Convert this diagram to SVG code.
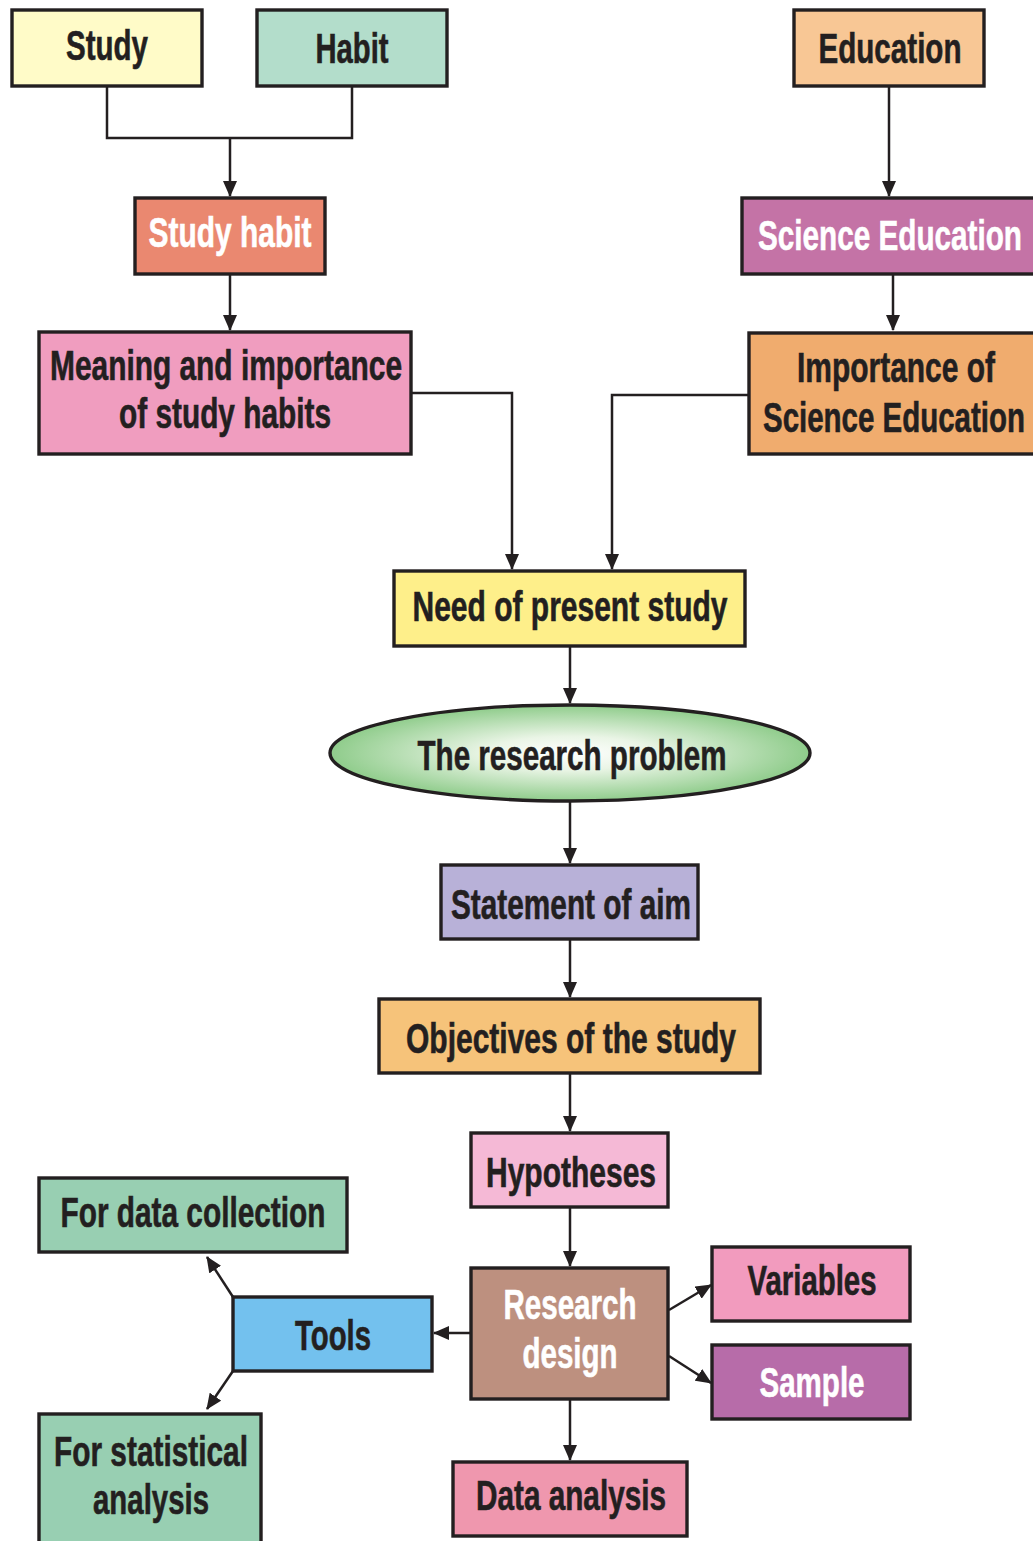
<svg xmlns="http://www.w3.org/2000/svg" width="1033" height="1541" viewBox="0 0 1033 1541">
  <defs>
    <marker id="arrow" markerUnits="userSpaceOnUse" markerWidth="16" markerHeight="14" viewBox="0 0 16 14" refX="15" refY="7" orient="auto">
      <path d="M0,0 L16,7 L0,14 Z" fill="#231f20"/>
    </marker>
    <radialGradient id="ovalFill" cx="50%" cy="50%" r="50%">
      <stop offset="0" stop-color="#ffffff"/>
      <stop offset="0.35" stop-color="#eaf5e6"/>
      <stop offset="1" stop-color="#8fcc8b"/>
    </radialGradient>
    <style>
      .box { stroke: #231f20; stroke-width: 3.4; }
      .lbl { font-family: "Liberation Sans", Arial, sans-serif; font-weight: bold; font-size: 42px; text-anchor: middle; fill: #231f20; stroke: #231f20; stroke-width: 0.6px; }
      .light { fill: #ffffff; stroke: #ffffff; }
      .wire { fill: none; stroke: #231f20; stroke-width: 2.5; }
      .arr { marker-end: url(#arrow); }
    </style>
  </defs>

  <rect width="1033" height="1541" fill="#ffffff"/>

  <!-- connectors -->
  <g id="connectors">
    <path class="wire" d="M107,86 V138 H352 V86"/>
    <path class="wire arr" d="M230,138 V196"/>
    <path class="wire arr" d="M230,274 V330"/>
    <path class="wire arr" d="M411,393 H512 V569"/>
    <path class="wire arr" d="M889,86 V196"/>
    <path class="wire arr" d="M893,274 V330"/>
    <path class="wire arr" d="M749,395 H612 V569"/>
    <path class="wire arr" d="M570,646 V703"/>
    <path class="wire arr" d="M570,801 V863"/>
    <path class="wire arr" d="M570,939 V997"/>
    <path class="wire arr" d="M570,1073 V1131"/>
    <path class="wire arr" d="M570,1207 V1266"/>
    <path class="wire arr" d="M470,1333 H434"/>
    <path class="wire arr" d="M570,1399 V1460"/>
    <path class="wire arr" d="M669,1310 L711,1285"/>
    <path class="wire arr" d="M669,1356 L711,1383"/>
    <path class="wire arr" d="M233,1297 L207,1257"/>
    <path class="wire arr" d="M233,1371 L207,1409"/>
  </g>

  <g id="study">
    <rect class="box" x="12" y="10" width="190" height="76" fill="#fffbc8"/>
    <text class="lbl" x="107" y="60" textLength="82" lengthAdjust="spacingAndGlyphs">Study</text>
  </g>
  <g id="habit">
    <rect class="box" x="257" y="10" width="190" height="76" fill="#b3ddcb"/>
    <text class="lbl" x="352" y="63" textLength="73" lengthAdjust="spacingAndGlyphs">Habit</text>
  </g>
  <g id="education">
    <rect class="box" x="794" y="10" width="190" height="76" fill="#f8c795"/>
    <text class="lbl" x="890" y="63" textLength="143" lengthAdjust="spacingAndGlyphs">Education</text>
  </g>
  <g id="study-habit">
    <rect class="box" x="135" y="198" width="190" height="76" fill="#ea8870"/>
    <text class="lbl light" x="230" y="247" textLength="163" lengthAdjust="spacingAndGlyphs">Study habit</text>
  </g>
  <!-- right column runs to the page edge; labels are condensed with a scale -->
  <g id="science-education">
    <rect class="box" x="742" y="198" width="294" height="76" fill="#c473a6"/>
    <text class="lbl light" transform="translate(890,250) scale(0.72,1)" x="0" y="0" textLength="366.7" lengthAdjust="spacingAndGlyphs">Science Education</text>
  </g>
  <g id="meaning">
    <rect class="box" x="39" y="332" width="372" height="122" fill="#f09dbf"/>
    <text class="lbl" x="226" y="380" textLength="352" lengthAdjust="spacingAndGlyphs">Meaning and importance</text>
    <text class="lbl" x="225" y="428" textLength="212" lengthAdjust="spacingAndGlyphs">of study habits</text>
  </g>
  <g id="importance">
    <rect class="box" x="749" y="333" width="287" height="121" fill="#f0ac6e"/>
    <text class="lbl" transform="translate(896,382) scale(0.72,1)" x="0" y="0" textLength="275" lengthAdjust="spacingAndGlyphs">Importance of</text>
    <text class="lbl" transform="translate(894,432) scale(0.72,1)" x="0" y="0" textLength="363.9" lengthAdjust="spacingAndGlyphs">Science Education</text>
  </g>
  <g id="need">
    <rect class="box" x="394" y="571" width="351" height="75" fill="#feef8a"/>
    <text class="lbl" x="570" y="621" textLength="315" lengthAdjust="spacingAndGlyphs">Need of present study</text>
  </g>
  <g id="research-problem">
    <ellipse class="box" cx="570" cy="753" rx="240" ry="48" fill="url(#ovalFill)"/>
    <text class="lbl" x="572" y="770" textLength="309" lengthAdjust="spacingAndGlyphs">The research problem</text>
  </g>
  <g id="aim">
    <rect class="box" x="441" y="865" width="257" height="74" fill="#b8b1d8"/>
    <text class="lbl" x="571" y="919" textLength="240" lengthAdjust="spacingAndGlyphs">Statement of aim</text>
  </g>
  <g id="objectives">
    <rect class="box" x="379" y="999" width="381" height="74" fill="#f6c37a"/>
    <text class="lbl" x="571" y="1053" textLength="330" lengthAdjust="spacingAndGlyphs">Objectives of the study</text>
  </g>
  <g id="hypotheses">
    <rect class="box" x="471" y="1133" width="197" height="74" fill="#f5b9d6"/>
    <text class="lbl" x="571" y="1187" textLength="170" lengthAdjust="spacingAndGlyphs">Hypotheses</text>
  </g>
  <g id="research-design">
    <rect class="box" x="471" y="1268" width="197" height="131" fill="#bd907f"/>
    <text class="lbl light" x="570" y="1319" textLength="133" lengthAdjust="spacingAndGlyphs">Research</text>
    <text class="lbl light" x="570" y="1368" textLength="95" lengthAdjust="spacingAndGlyphs">design</text>
  </g>
  <g id="tools">
    <rect class="box" x="233" y="1297" width="199" height="74" fill="#73c1ee"/>
    <text class="lbl" x="333" y="1350" textLength="76" lengthAdjust="spacingAndGlyphs">Tools</text>
  </g>
  <g id="data-collection">
    <rect class="box" x="39" y="1178" width="308" height="74" fill="#98cfb2"/>
    <text class="lbl" x="193" y="1227" textLength="265" lengthAdjust="spacingAndGlyphs">For data collection</text>
  </g>
  <g id="statistical-analysis">
    <rect class="box" x="39" y="1414" width="222" height="140" fill="#98cfb2"/>
    <text class="lbl" x="151" y="1466" textLength="194" lengthAdjust="spacingAndGlyphs">For statistical</text>
    <text class="lbl" x="151" y="1514" textLength="116" lengthAdjust="spacingAndGlyphs">analysis</text>
  </g>
  <g id="variables">
    <rect class="box" x="712" y="1247" width="198" height="74" fill="#f29bbe"/>
    <text class="lbl" x="812" y="1295" textLength="129" lengthAdjust="spacingAndGlyphs">Variables</text>
  </g>
  <g id="sample">
    <rect class="box" x="712" y="1345" width="198" height="74" fill="#b76ca9"/>
    <text class="lbl light" x="812" y="1397" textLength="105" lengthAdjust="spacingAndGlyphs">Sample</text>
  </g>
  <g id="data-analysis">
    <rect class="box" x="453" y="1462" width="234" height="74" fill="#ef97ae"/>
    <text class="lbl" x="571" y="1510" textLength="190" lengthAdjust="spacingAndGlyphs">Data analysis</text>
  </g>
</svg>
